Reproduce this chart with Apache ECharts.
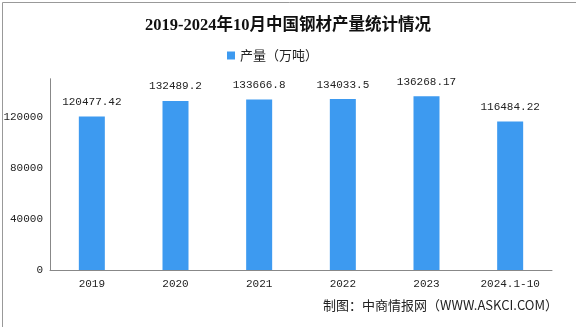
<!DOCTYPE html>
<html>
<head>
<meta charset="utf-8">
<script src="https://cdn.jsdelivr.net/npm/echarts@6/dist/echarts.min.js"></script>
<style>
  html, body { margin: 0; padding: 0; background: #fff; }
  #chart { width: 576px; height: 327px; }
</style>
</head>
<body>
<div id="chart"></div>
<script>
// 数据
var categories = ['2019', '2020', '2021', '2022', '2023', '2024.1-10'];
var output = [120477.42, 132489.2, 133666.8, 134033.5, 136268.17, 116484.22];
var seriesName = '产量（万吨）';

var numFont = '"Liberation Mono", "DejaVu Sans Mono", monospace';
var cnFont = '"Noto Sans CJK SC", sans-serif';

var myChart = echarts.init(document.getElementById('chart'));

var option = {
  backgroundColor: '#fff',
  animation: false,
  title: {
    text: '2019-2024年10月中国钢材产量统计情况',
    left: 'center',
    top: 12,
    textStyle: {
      fontSize: 16.5,
      fontWeight: 'bold',
      color: '#111',
      fontFamily: '"Liberation Serif", "Noto Sans CJK SC", serif'
    }
  },
  legend: {
    data: [seriesName],
    left: 222,
    top: 44,
    icon: 'rect',
    itemWidth: 8,
    itemHeight: 8,
    itemGap: 4,
    textStyle: { fontSize: 13, color: '#222', fontFamily: cnFont }
  },
  grid: {
    left: 50,
    right: 24,
    top: 78.75,
    bottom: 57
  },
  xAxis: {
    type: 'category',
    data: categories,
    axisLine: { lineStyle: { color: '#888' } },
    axisTick: { inside: true, length: 5, lineStyle: { color: '#888' } },
    axisLabel: {
      margin: 9,
      fontSize: 11,
      color: '#222',
      fontFamily: numFont
    }
  },
  yAxis: {
    type: 'value',
    min: 0,
    max: 150000,
    interval: 40000,
    axisLine: { show: true, lineStyle: { color: '#888' } },
    axisTick: { show: false },
    splitLine: { show: false },
    axisLabel: {
      showMaxLabel: false,
      margin: 7,
      fontSize: 11,
      color: '#222',
      fontFamily: numFont,
      formatter: function (v) { return String(v); }
    }
  },
  series: [
    {
      name: seriesName,
      type: 'bar',
      data: output,
      barWidth: 26,
      itemStyle: { color: '#3d9af0' },
      label: {
        show: true,
        position: 'top',
        distance: 9,
        fontSize: 11,
        color: '#222',
        fontFamily: numFont
      }
    }
  ],
  graphic: [
    {
      type: 'rect',
      left: 0,
      top: 0,
      shape: { x: 0.5, y: 0.5, width: 575, height: 326 },
      style: { fill: 'none', stroke: '#999', lineWidth: 1 },
      silent: true
    },
    {
      type: 'text',
      right: 18,
      top: 299,
      style: {
        text: '制图：中商情报网（WWW.ASKCI.COM）',
        fontSize: 13,
        fill: '#222',
        fontFamily: cnFont
      }
    }
  ]
};

myChart.setOption(option);
</script>
</body>
</html>
